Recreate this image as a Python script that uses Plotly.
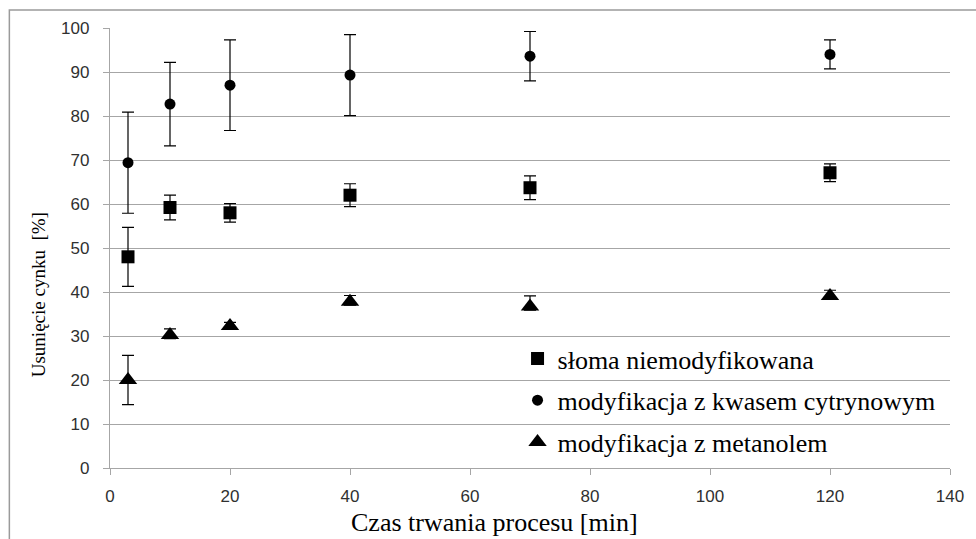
import plotly.graph_objects as go

czas = [3, 10, 20, 40, 70, 120]

sloma = [48.0, 59.2, 58.0, 62.0, 63.7, 67.1]
sloma_err = [6.7, 2.8, 2.1, 2.6, 2.7, 2.0]

kwas = [69.4, 82.7, 87.0, 89.3, 93.6, 94.0]
kwas_err = [11.5, 9.5, 10.3, 9.2, 5.6, 3.3]

metanol = [20.0, 30.2, 32.3, 37.8, 36.7, 39.1]
metanol_err_plus = [5.6, 1.4, 0.8, 1.4, 2.4, 1.3]
metanol_err_minus = [5.6, 0.8, 0.8, 0.8, 0.8, 0.8]

names = ["słoma niemodyfikowana", "modyfikacja z kwasem cytrynowym", "modyfikacja z metanolem"]
x_ticks = [0, 20, 40, 60, 80, 100, 120, 140]
y_ticks = [0, 10, 20, 30, 40, 50, 60, 70, 80, 90, 100]

L, R, T, B = 110, 23, 28, 71
W, H = 976, 539
pw, ph = W - L - R, H - T - B

def px_x(p):
    return (p - L) / pw

def px_y(p):
    return (H - B - p) / ph

fig = go.Figure()
series = [
    (sloma, sloma_err, sloma_err, "square", 13, names[0], "g1"),
    (kwas, kwas_err, kwas_err, "circle", 11, names[1], "g2"),
    (metanol, metanol_err_plus, metanol_err_minus, "triangle-up", 16, names[2], "g3"),
]
for ys, ep, em, sym, sz, nm, grp in series:
    fig.add_trace(go.Scatter(
        x=czas, y=ys, mode="markers", name=nm, legendgroup=grp,
        marker=dict(symbol=sym, size=sz, color="black"),
        error_y=dict(type="data", symmetric=False, array=ep, arrayminus=em,
                     visible=True, color="black", thickness=1.2, width=6),
    ))

grid = "#a6a6a6"
fig.update_xaxes(
    range=[0, 140], tickvals=x_ticks, showgrid=False, zeroline=False,
    showline=True, linecolor=grid, linewidth=1.3,
    ticks="outside", ticklen=6, tickcolor=grid, tickwidth=1.3,
    ticklabelstandoff=6,
    tickfont=dict(family="Liberation Sans", size=17, color="#303030"),
)
fig.update_yaxes(
    range=[0, 100], tickvals=y_ticks, showgrid=True, gridcolor=grid, gridwidth=1.3,
    zeroline=False, showline=True, linecolor=grid, linewidth=1.3,
    ticks="outside", ticklen=6, tickcolor=grid, tickwidth=1.3,
    ticklabelstandoff=10,
    tickfont=dict(family="Liberation Sans", size=17, color="#303030"),
)

fig.update_layout(
    width=W, height=H,
    margin=dict(l=L, r=R, t=T, b=B),
    paper_bgcolor="white", plot_bgcolor="white",
    font=dict(family="Liberation Serif", color="black"),
    showlegend=True,
    legend=dict(
        x=px_x(519), y=px_y(335), xanchor="left", yanchor="top",
        bgcolor="rgba(0,0,0,0)", borderwidth=0,
        traceorder="grouped", tracegroupgap=5,
        font=dict(family="Liberation Serif", size=26, color="black"),
    ),
    shapes=[dict(
        type="rect", xref="paper", yref="paper",
        x0=px_x(9), x1=px_x(1000), y0=px_y(600), y1=px_y(10),
        line=dict(color="#9a9a9a", width=1.5), layer="below",
    )],
    annotations=[
        dict(text="Czas trwania procesu [min]", xref="paper", yref="paper",
             x=px_x(496), y=px_y(522), xanchor="center", yanchor="middle",
             showarrow=False,
             font=dict(family="Liberation Serif", size=26, color="black")),
        dict(text="Usunięcie cynku  [%]", xref="paper", yref="paper",
             x=px_x(38), y=px_y(295), xanchor="center", yanchor="middle",
             textangle=-90, showarrow=False,
             font=dict(family="Liberation Serif", size=19, color="black")),
    ],
)

fig.write_html("out.html")
